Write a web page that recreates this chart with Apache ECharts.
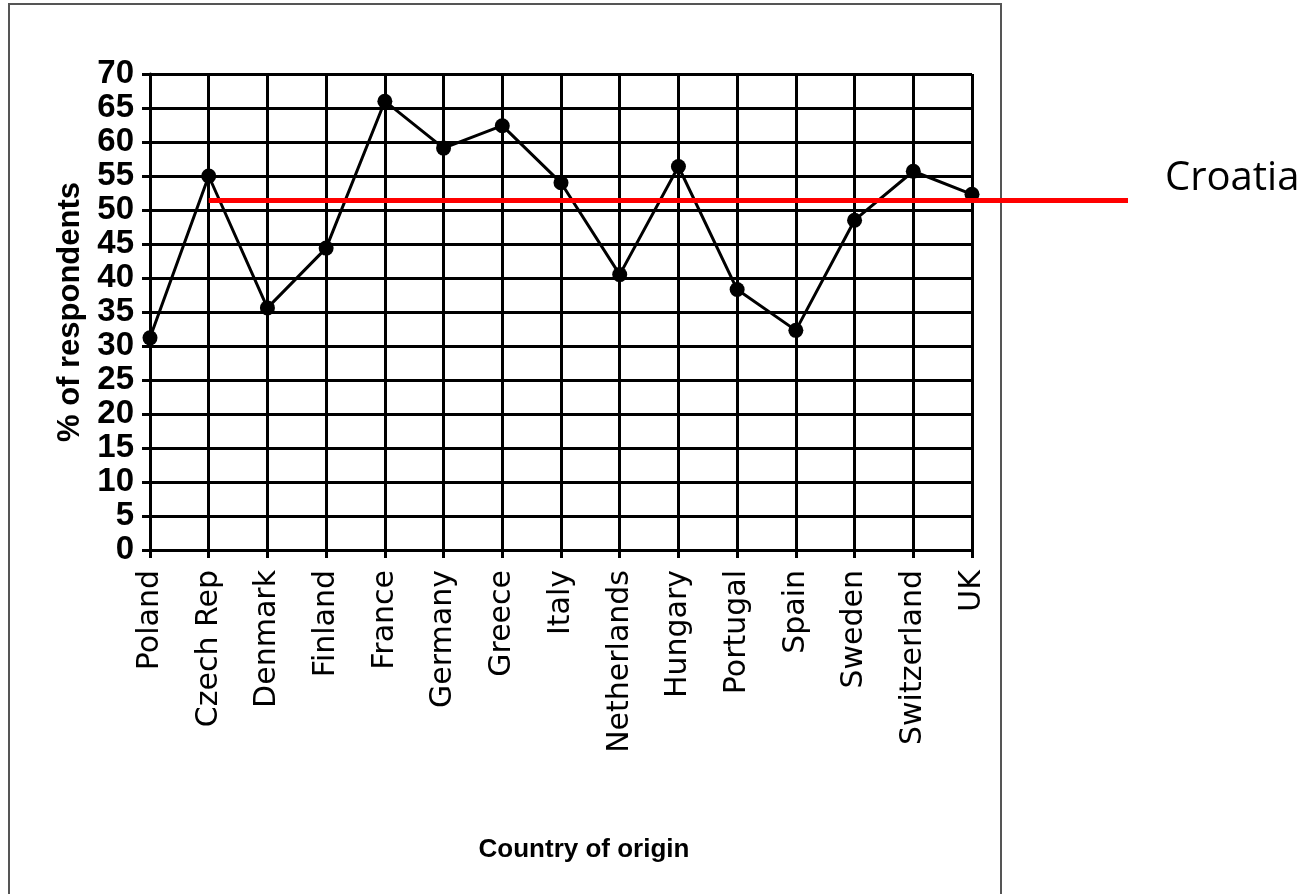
<!DOCTYPE html>
<html>
<head>
<meta charset="utf-8">
<style>
  html, body { margin: 0; padding: 0; background: #fff; }
  #chart { width: 1304px; height: 894px; }
</style>
<script src="https://cdn.jsdelivr.net/npm/echarts@6/dist/echarts.min.js"></script>
</head>
<body>
<div id="chart"></div>
<script>
// ---- data ----
const countries = ['Poland', 'Czech Rep', 'Denmark', 'Finland', 'France', 'Germany', 'Greece', 'Italy',
                   'Netherlands', 'Hungary', 'Portugal', 'Spain', 'Sweden', 'Switzerland', 'UK'];
const respondents = [31.2, 55, 35.6, 44.4, 66, 59.1, 62.4, 54, 40.5, 56.4, 38.3, 32.3, 48.5, 55.7, 52.3];
const yTicks = [0, 5, 10, 15, 20, 25, 30, 35, 40, 45, 50, 55, 60, 65, 70];
const croatiaLabel = 'Croatia';
const croatiaValue = 51.4;
// reference line runs from the Czech Rep category (index 1) out past the plot's right edge
const croatiaSpan = [1, 16.66];

const chart = echarts.init(document.getElementById('chart'));
const black = '#000';

const option = {
  animation: false,
  backgroundColor: '#fff',
  graphic: [{
    type: 'rect',
    shape: { x: 9, y: 4, width: 992, height: 920 },
    style: { fill: 'none', stroke: '#555', lineWidth: 2 },
    silent: true
  }],
  grid: [
    { left: 150, right: 332, top: 74, bottom: 344, containLabel: false },
    { left: 150, right: 176, top: 74, bottom: 344, containLabel: false }
  ],
  xAxis: [{
    type: 'category',
    gridIndex: 0,
    data: countries,
    boundaryGap: false,
    name: 'Country of origin',
    nameLocation: 'middle',
    nameGap: 287,
    nameTextStyle: {
      fontFamily: '"Liberation Sans", Arial, sans-serif',
      fontWeight: 'bold', fontSize: 26, color: black,
      verticalAlign: 'top', padding: [0, 0, 0, 46]
    },
    axisLine: { show: true, lineStyle: { color: black, width: 3 } },
    axisTick: { show: true, length: 8, lineStyle: { color: black, width: 3 } },
    axisLabel: {
      interval: 0, rotate: 90, margin: 20, color: black,
      fontFamily: '"DejaVu Sans", sans-serif', fontSize: 30
    },
    splitLine: { show: true, lineStyle: { color: black, width: 3 } }
  }, {
    type: 'value',
    gridIndex: 1,
    min: 0,
    max: croatiaSpan[1],
    show: false
  }],
  yAxis: [{
    type: 'value',
    gridIndex: 0,
    min: 0,
    max: 70,
    interval: 5,
    name: '% of respondents',
    nameLocation: 'middle',
    nameGap: 60,
    nameTextStyle: {
      fontFamily: '"Liberation Sans", Arial, sans-serif',
      fontWeight: 'bold', fontSize: 31, color: black
    },
    axisLine: { show: true, lineStyle: { color: black, width: 3 } },
    axisTick: { show: true, length: 8, lineStyle: { color: black, width: 3 } },
    axisLabel: {
      margin: 16, color: black, showMinLabel: true, showMaxLabel: true,
      fontFamily: '"Liberation Sans", Arial, sans-serif',
      fontWeight: 'bold', fontSize: 33,
      formatter: function (v) { return yTicks.indexOf(v) >= 0 ? String(v) : ''; }
    },
    splitLine: { show: true, lineStyle: { color: black, width: 3 } }
  }, {
    type: 'value',
    gridIndex: 1,
    min: 0,
    max: 70,
    show: false
  }],
  series: [{
    type: 'line',
    data: respondents,
    symbol: 'circle',
    symbolSize: 15,
    itemStyle: { color: black },
    lineStyle: { color: black, width: 3 },
    z: 5
  }, {
    type: 'line',
    xAxisIndex: 1,
    yAxisIndex: 1,
    data: [[croatiaSpan[0], croatiaValue], [croatiaSpan[1], croatiaValue]],
    symbol: 'none',
    lineStyle: { color: '#ff0000', width: 5 },
    endLabel: {
      show: true,
      formatter: croatiaLabel,
      distance: 37,
      offset: [0, -22],
      color: black,
      fontFamily: '"Open Sans", sans-serif',
      fontSize: 40
    },
    z: 6
  }]
};
chart.setOption(option);
</script>
</body>
</html>
